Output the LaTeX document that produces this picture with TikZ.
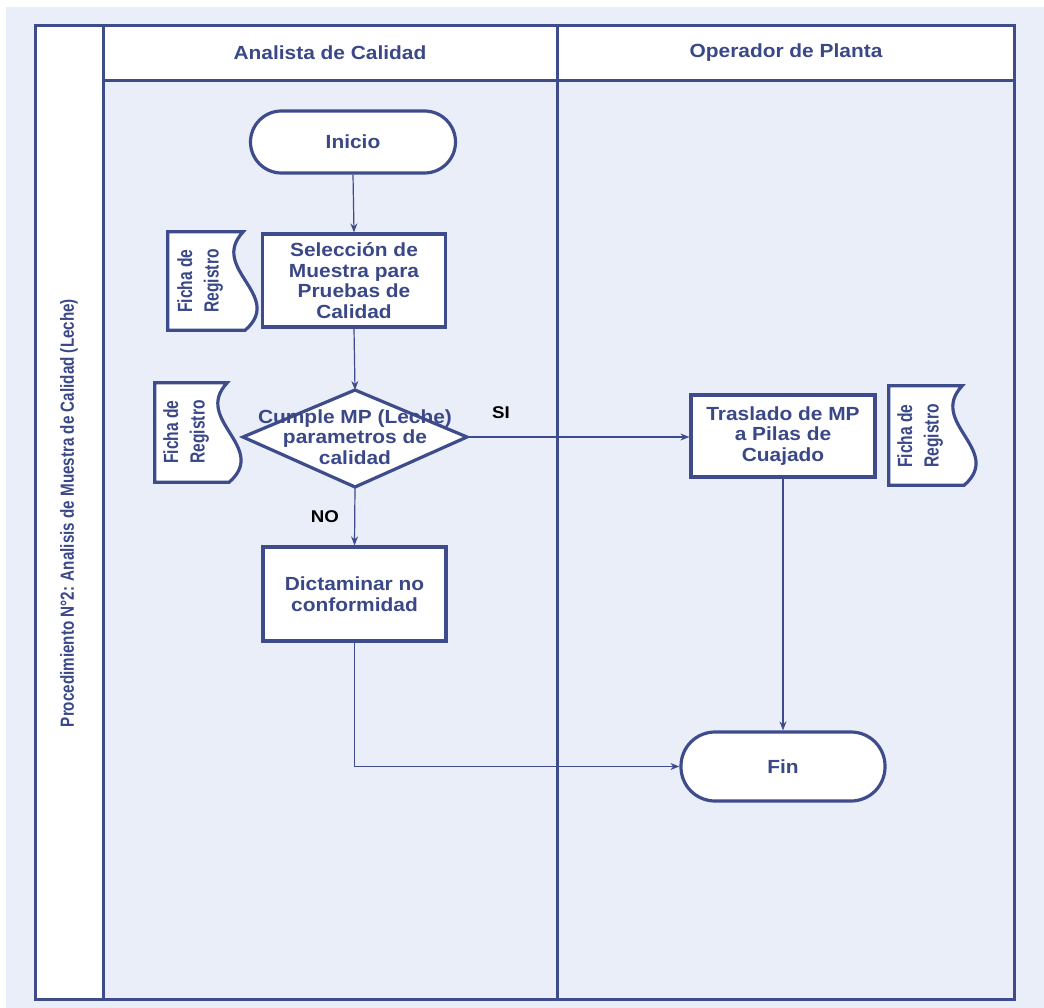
\documentclass[tikz,border=0pt]{standalone}
\usepackage{fontspec}
\setmainfont{Liberation Sans}[FakeStretch=1.1]
\newfontfamily\vfont{Liberation Sans}[FakeStretch=0.8]
\newfontfamily\docfont{Liberation Sans}[FakeStretch=0.76]
\usetikzlibrary{calc,arrows.meta}
\definecolor{pagebg}{RGB}{233,238,248}
\definecolor{ink}{RGB}{62,76,140}
\definecolor{txt}{RGB}{58,72,136}
\tikzset{
  frameline/.style={draw=ink,line width=3pt},
  shapeline/.style={draw=ink,line width=3.2pt,fill=white},
  boxtext/.style={text=txt,font=\fontsize{19}{20.5}\selectfont\bfseries,align=center},
  procbox/.style={shapeline,boxtext,inner sep=0pt},
  termbox/.style={shapeline,boxtext,inner sep=0pt,rounded corners=31pt},
  docnode/.style={inner sep=0pt,text=txt,align=center,
    font=\docfont\fontsize{20.5}{26.5}\selectfont\bfseries},
  conn/.style={draw=ink,line width=1.2pt,-{Stealth[length=9pt,width=7pt]}},
  lbl/.style={font=\fontsize{17}{20}\selectfont\bfseries,text=black},
  lanehead/.style={text=txt,font=\fontsize{19}{22}\selectfont\bfseries}
}
% wavy right side of a "Ficha de Registro" document symbol
\newcommand{\docoutline}[1]{%
  \draw[shapeline] (#1.north west) -- ($(#1.north east)+(-5,0)$)
    .. controls ($(#1.north east)+(-40,37)$) and ($(#1.south east)+(37,-35)$) ..
    ($(#1.south east)+(-3,0)$) -- (#1.south west) -- cycle;}
\begin{document}
\begin{tikzpicture}[x=1pt,y=-1pt]
\useasboundingbox (0,0) rectangle (1044,1008);
\fill[pagebg] (6,7) rectangle (1044,1008);

% pool frame, title column and lane headers
\fill[white] (35,26) rectangle (103,999);
\fill[white] (103,26) rectangle (1014,81);
\draw[frameline] (35,26) rectangle (1014,999);
\draw[frameline] (103,26) -- (103,999);
\draw[frameline] (557,26) -- (557,999);
\draw[frameline] (103,81) -- (1014,81);

\node[rotate=90,text=txt,font=\vfont\fontsize{19}{22}\selectfont\bfseries] (title) at (69,513)
  {Procedimiento N°2: Analisis de Muestra de Calidad (Leche)};
\node[lanehead] (laneA) at (330,53) {Analista de Calidad};
\node[lanehead] (laneB) at (786,53) {Operador de Planta};

% flow steps
\node[termbox,minimum width=205pt,minimum height=62pt] (inicio) at (353,142) {Inicio};
\node[procbox,minimum width=183pt,minimum height=93pt] (sel) at (354,280.5)
  {Selección de\\Muestra para\\Pruebas de\\Calidad};
\draw[shapeline] (355,390) coordinate (dtop) -- (467,437) coordinate (dright)
  -- (355,487) coordinate (dbot) -- (243,437) coordinate (dleft) -- cycle;
\node[boxtext,inner sep=0pt] (dec) at (355,437) {Cumple MP (Leche)\\parametros de\\calidad};
\node[procbox,minimum width=183pt,minimum height=94pt] (dict) at (354.5,594)
  {Dictaminar no\\conformidad};
\node[procbox,minimum width=184pt,minimum height=82pt] (tras) at (783,436)
  {Traslado de MP\\a Pilas de\\Cuajado};
\node[termbox,minimum width=204pt,minimum height=69pt,rounded corners=34pt] (fin) at (783,766.5) {Fin};

% record documents
\node[docnode,minimum width=80pt,minimum height=98pt] (doc1) at (208,281) {};
\docoutline{doc1}
\node[docnode,rotate=90] (doc1t) at (200,281) {Ficha de\\Registro};
\node[docnode,minimum width=77pt,minimum height=99pt] (doc2) at (193.5,432.5) {};
\docoutline{doc2}
\node[docnode,rotate=90] (doc2t) at (186,432) {Ficha de\\Registro};
\node[docnode,minimum width=78pt,minimum height=99pt] (doc3) at (928,435.5) {};
\docoutline{doc3}
\node[docnode,rotate=90] (doc3t) at (920,436) {Ficha de\\Registro};

% connectors
\draw[conn] (inicio.south) -- (sel.north);
\draw[conn] (sel.south) -- (dtop);
\draw[conn] (dright) -- (tras.west |- dright);
\draw[conn] (dbot) -- (dict.north);
\draw[conn] (tras.south) -- (fin.north);
\draw[conn] (dict.south) |- (fin.west);

\node[lbl] (si) at (501,413) {SI};
\node[lbl] (no) at (325,517) {NO};
\end{tikzpicture}
\end{document}
